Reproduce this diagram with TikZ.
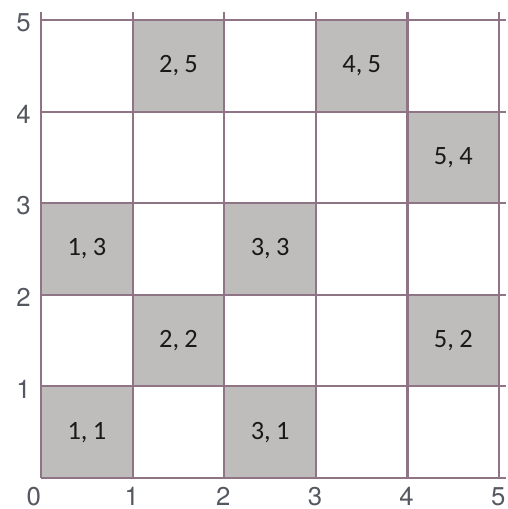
\documentclass[tikz,border=0pt]{standalone}
\usepackage{fontspec}
\usepackage{tikz}
\newfontfamily\axisfont{TeX Gyre Heros}
\newfontfamily\cellfont{Carlito}
\definecolor{GridLine}{RGB}{142,116,132}
\definecolor{CellFill}{RGB}{190,189,187}
\definecolor{AxisText}{RGB}{85,88,96}
\definecolor{CellText}{RGB}{25,25,25}

\begin{document}
\begin{tikzpicture}[
  gridline/.style={draw=GridLine, line width=0.65pt},
  cell/.style={fill=CellFill, minimum size=1cm, inner sep=0pt, text=CellText,
    font=\cellfont\fontsize{8.2}{9}\selectfont},
  axlabel/.style={text=AxisText, inner sep=0pt, font=\axisfont\fontsize{8}{9}\selectfont},
]
\useasboundingbox (-0.448,-0.338) rectangle (5.087,5.218);

% shaded cells
\foreach \cx/\cy in {1/1,2/2,3/1,1/3,3/3,5/2,5/4,2/5,4/5}
  \node[cell] (c\cx\cy) at (\cx-0.5,\cy-0.5) {\cx,\hspace{0.2em}\cy};

% grid
\foreach \i in {0,...,5} {
  \draw[gridline] (\i,0) -- (\i,5.09);
  \draw[gridline] (0,\i) -- (5.08,\i);
}

% axis numbers
\node[axlabel] (x0) at (-0.08,-0.2) {0};
\foreach \i in {1,...,5}
  \node[axlabel] (x\i) at (\i-0.01,-0.2) {\i};
\foreach \i in {1,...,5}
  \node[axlabel] (y\i) at (-0.19,\i-0.03) {\i};
\end{tikzpicture}
\end{document}
